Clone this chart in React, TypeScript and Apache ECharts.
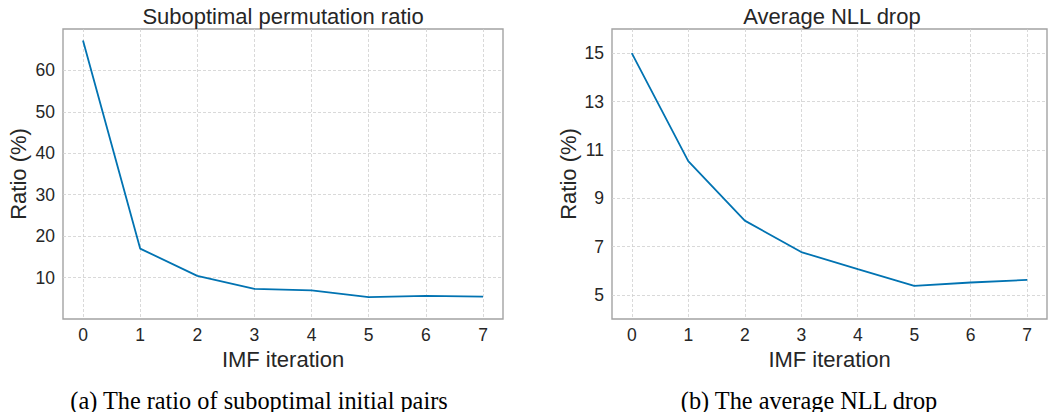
import React, { useEffect, useRef } from "react";
import * as echarts from "echarts";

// IMF iterations on the x axis of both panels
const iterations = [0, 1, 2, 3, 4, 5, 6, 7];
// (a) share of suboptimal initial pairs, in percent
const suboptimalRatio = [67.2, 17.0, 10.4, 7.25, 6.9, 5.3, 5.6, 5.4];
// (b) average NLL drop, in percent
const nllDrop = [15.0, 10.53, 8.07, 6.77, 6.06, 5.37, 5.51, 5.62];
// labelled ticks of the two y axes
const ratioTicks = [10, 20, 30, 40, 50, 60];
const nllTicks = [5, 7, 9, 11, 13, 15];

const SANS = "'Liberation Sans', Arial, Helvetica, sans-serif";
const SERIF = "'Liberation Serif', 'Times New Roman', serif";
const TEXT = "#262626";
const GRID = "#cfcfcf";
const FRAME = "#a3a3a3";
const LINE = "#0173b2";
const CLEAR = "rgba(0,0,0,0)";
const TICK_SIZE = 17.5;

const dashed = { type: [3, 2] as number[], color: GRID, width: 0.8 };

// x runs from -0.35 to 7.35 (5% padding) with a fine 0.05 step, so that
// the integer iterations fall on ticks; only every 20th tick gets a line.
const X_MIN = -0.35;
const X_MAX = 7.35;
const X_STEP = 0.05;
const xLineColors = Array.from({ length: 20 }, (_, k) => (k === 7 ? GRID : CLEAR));

function xAxis(gridIndex: number) {
  return {
    type: "value",
    gridIndex,
    min: X_MIN,
    max: X_MAX,
    interval: X_STEP,
    axisLine: { show: false },
    axisTick: { show: false },
    axisLabel: {
      margin: 7,
      fontSize: TICK_SIZE,
      color: TEXT,
      fontFamily: SANS,
      formatter: (v: number) => {
        const r = Math.round(v);
        return Math.abs(v - r) < 1e-6 && iterations.includes(r) ? String(r) : "";
      },
    },
    splitLine: { show: true, lineStyle: { ...dashed, color: xLineColors } },
    name: "IMF iteration",
    nameLocation: "middle",
    nameGap: 26,
    nameTextStyle: { fontSize: 22, color: TEXT, fontFamily: SANS },
  };
}

export default function App() {
  const ref = useRef<HTMLDivElement>(null);

  useEffect(() => {
    if (!ref.current) return;
    const chart = echarts.init(ref.current, undefined, { renderer: "svg" });
    chart.setOption({
      animation: false,
      backgroundColor: "#ffffff",
      grid: [
        { left: 63, top: 29, width: 440, height: 290, show: true, borderColor: FRAME, borderWidth: 1.4, backgroundColor: "#fff" },
        { left: 612, top: 29, width: 441, height: 290, show: true, borderColor: FRAME, borderWidth: 1.4, backgroundColor: "#fff" },
      ],
      xAxis: [xAxis(0), xAxis(1)],
      yAxis: [
        {
          type: "value",
          gridIndex: 0,
          min: 0,
          max: 70,
          interval: 10,
          axisLine: { show: false },
          axisTick: { show: false },
          axisLabel: {
            margin: 8,
            fontSize: TICK_SIZE,
            color: TEXT,
            fontFamily: SANS,
            formatter: (v: number) => (ratioTicks.includes(v) ? String(v) : ""),
          },
          splitLine: { show: true, showMinLine: false, showMaxLine: false, lineStyle: dashed },
          name: "Ratio (%)",
          nameLocation: "middle",
          nameGap: 34,
          nameTextStyle: { fontSize: 22, color: TEXT, fontFamily: SANS },
        },
        {
          type: "value",
          gridIndex: 1,
          min: 4,
          max: 16,
          interval: 1,
          axisLine: { show: false },
          axisTick: { show: false },
          axisLabel: {
            margin: 8,
            fontSize: TICK_SIZE,
            color: TEXT,
            fontFamily: SANS,
            formatter: (v: number) => (nllTicks.includes(v) ? String(v) : ""),
          },
          // grid lines only on the odd, labelled values
          splitLine: {
            show: true,
            lineStyle: { ...dashed, color: [CLEAR, GRID] },
          },
          name: "Ratio (%)",
          nameLocation: "middle",
          nameGap: 33,
          nameTextStyle: { fontSize: 22, color: TEXT, fontFamily: SANS },
        },
      ],
      series: [
        {
          type: "line",
          xAxisIndex: 0,
          yAxisIndex: 0,
          data: iterations.map((x, i) => [x, suboptimalRatio[i]]),
          showSymbol: false,
          lineStyle: { color: LINE, width: 1.8 },
          itemStyle: { color: LINE },
        },
        {
          type: "line",
          xAxisIndex: 1,
          yAxisIndex: 1,
          data: iterations.map((x, i) => [x, nllDrop[i]]),
          showSymbol: false,
          lineStyle: { color: LINE, width: 1.8 },
          itemStyle: { color: LINE },
        },
      ],
      graphic: [
        {
          type: "text",
          x: 283,
          y: 16,
          style: { text: "Suboptimal permutation ratio", align: "center", verticalAlign: "middle", fontSize: 22, fontFamily: SANS, fill: TEXT },
        },
        {
          type: "text",
          x: 832,
          y: 16,
          style: { text: "Average NLL drop", align: "center", verticalAlign: "middle", fontSize: 22, fontFamily: SANS, fill: TEXT },
        },
        {
          type: "text",
          x: 259,
          y: 400,
          style: { text: "(a) The ratio of suboptimal initial pairs", align: "center", verticalAlign: "middle", fontSize: 24.3, fontFamily: SERIF, fill: "#000" },
        },
        {
          type: "text",
          x: 809,
          y: 400,
          style: { text: "(b) The average NLL drop", align: "center", verticalAlign: "middle", fontSize: 24.3, fontFamily: SERIF, fill: "#000" },
        },
      ],
    });
    return () => chart.dispose();
  }, []);

  return <div ref={ref} style={{ position: "absolute", left: 0, top: 0, width: 1050, height: 412 }} />;
}
